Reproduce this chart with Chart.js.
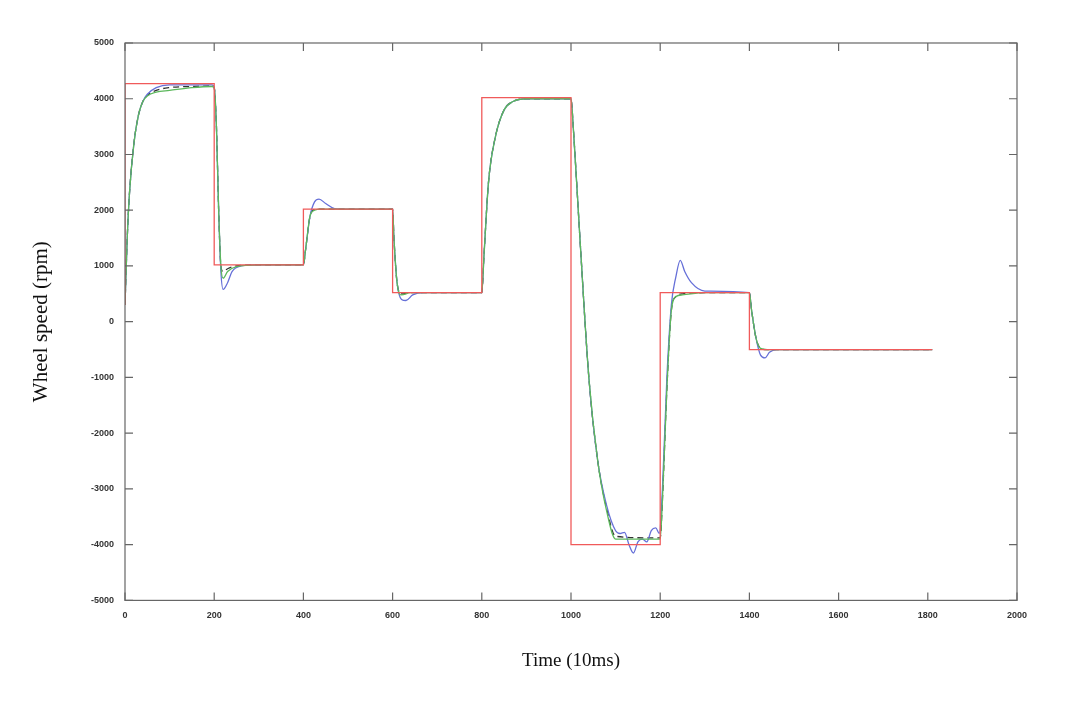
<!DOCTYPE html>
<html><head><meta charset="utf-8">
<script src="https://cdn.jsdelivr.net/npm/chart.js@4"></script>
<style>html,body{margin:0;background:#fff}#w{width:1074px;height:724px}</style>
</head><body><div id="w"><canvas id="c"></canvas></div>
<script>
const xTicks=[0,200,400,600,800,1000,1200,1400,1600,1800,2000];
const yTicks=[-5000,-4000,-3000,-2000,-1000,0,1000,2000,3000,4000,5000];
const refT=[0,0,200,200,400,400,600,600,800,800,1000,1000,1200,1200,1400,1400,1810];
const refV=[300,4270,4270,1020,1020,2020,2020,520,520,4020,4020,-4000,-4000,520,520,-500,-500];
const blueT=[0,5,10,20,30,40,50,70,100,150,195,200,205,210,215,220,230,240,260,300,400,405,415,425,435,450,470,500,600,603,610,620,630,645,670,800,805,815,830,850,870,900,1000,1005,1020,1040,1060,1080,1100,1110,1120,1130,1140,1150,1160,1170,1180,1190,1198,1205,1215,1225,1235,1245,1255,1270,1300,1400,1405,1415,1425,1435,1445,1460,1810];
const blueV=[300,1500,2300,3200,3700,3950,4080,4200,4250,4250,4250,4200,3500,2000,900,580,700,900,1000,1020,1020,1300,1900,2150,2200,2120,2030,2020,2020,1500,700,400,380,480,520,520,1200,2500,3300,3800,3950,4000,4000,3500,1500,-1000,-2500,-3300,-3750,-3800,-3780,-4000,-4150,-3950,-3900,-3950,-3750,-3700,-3800,-3000,-1000,300,800,1100,900,700,550,520,200,-300,-600,-650,-550,-500,-500];
const greenT=[0,5,10,20,30,40,50,70,100,150,195,200,205,210,215,220,230,250,300,400,405,415,425,440,500,600,603,610,620,640,800,805,815,830,850,870,900,1000,1005,1020,1040,1060,1080,1100,1200,1205,1215,1225,1235,1250,1300,1400,1405,1415,1425,1440,1810];
const greenV=[300,1500,2300,3200,3700,3950,4050,4120,4150,4200,4220,4200,3500,2000,1000,780,900,990,1020,1020,1300,1900,2000,2020,2020,2020,1500,700,480,520,520,1200,2500,3300,3800,3950,4000,4000,3500,1500,-1000,-2500,-3400,-3900,-3900,-3200,-1200,200,450,480,520,520,200,-300,-480,-500,-500];
const blackT=[0,5,10,20,30,40,50,70,100,150,195,200,205,210,215,220,230,250,300,400,405,415,425,440,500,600,603,610,620,640,800,805,815,830,850,870,900,1000,1005,1020,1040,1060,1080,1100,1200,1205,1215,1225,1235,1250,1300,1400,1405,1415,1425,1440,1810];
const blackV=[300,1500,2300,3200,3700,3950,4060,4150,4200,4220,4230,4200,3500,2000,1000,900,950,1000,1020,1020,1300,1900,2010,2020,2020,2020,1500,700,500,520,520,1200,2500,3300,3800,3950,4000,4000,3500,1500,-1000,-2500,-3350,-3850,-3880,-3200,-1200,200,450,500,520,520,200,-300,-480,-500,-500];
const pts=(t,v)=>t.map((x,i)=>({x,y:v[i]}));
const inner={id:'inner',afterDraw(ch){const c=ch.ctx,a=ch.chartArea,xs=ch.scales.x,ys=ch.scales.y;c.save();c.strokeStyle='#666';c.lineWidth=1.2;
c.strokeRect(a.left,a.top,a.right-a.left,a.bottom-a.top);c.beginPath();
xTicks.forEach(v=>{const p=xs.getPixelForValue(v);c.moveTo(p,a.bottom);c.lineTo(p,a.bottom-8);c.moveTo(p,a.top);c.lineTo(p,a.top+8);});
yTicks.forEach(v=>{const p=ys.getPixelForValue(v);c.moveTo(a.left,p);c.lineTo(a.left+8,p);c.moveTo(a.right,p);c.lineTo(a.right-8,p);});
c.stroke();c.restore();}};
const tf={color:'#333',font:{size:9,family:'Arial',weight:'bold'},callback:v=>String(v)};
new Chart(document.getElementById('c'),{type:'line',
data:{datasets:[
{data:pts(refT,refV),borderColor:'#f05a5a',borderWidth:1.3},
{data:pts(greenT,greenV),borderColor:'#5cb85c',borderWidth:1.3,cubicInterpolationMode:'monotone'},
{data:pts(blueT,blueV),borderColor:'#6670d8',borderWidth:1.3,cubicInterpolationMode:'monotone'},
{data:pts(blackT,blackV),borderColor:'#333',borderWidth:1.3,borderDash:[6,4],cubicInterpolationMode:'monotone'}]},
options:{responsive:true,maintainAspectRatio:false,animation:false,
layout:{padding:{left:25,top:43,right:57,bottom:48}},
elements:{point:{radius:0}},
plugins:{legend:{display:false},tooltip:{enabled:false}},
scales:{
x:{type:'linear',min:0,max:2000,afterBuildTicks:s=>{s.ticks=xTicks.map(v=>({value:v}))},
grid:{display:false},border:{display:false},ticks:{...tf,padding:2,maxRotation:0},
title:{display:true,text:'Time (10ms)',font:{size:19,family:'Liberation Serif'},color:'#111',padding:{top:26}}},
y:{min:-5000,max:5000,afterBuildTicks:s=>{s.ticks=yTicks.map(v=>({value:v}))},
afterFit:s=>{s.width=100},
grid:{display:false},border:{display:false},ticks:{...tf,padding:3},
title:{display:true,text:'Wheel speed (rpm)',font:{size:21,family:'Liberation Serif'},color:'#111',padding:{bottom:35}}}}},
plugins:[inner]});
</script></body></html>
